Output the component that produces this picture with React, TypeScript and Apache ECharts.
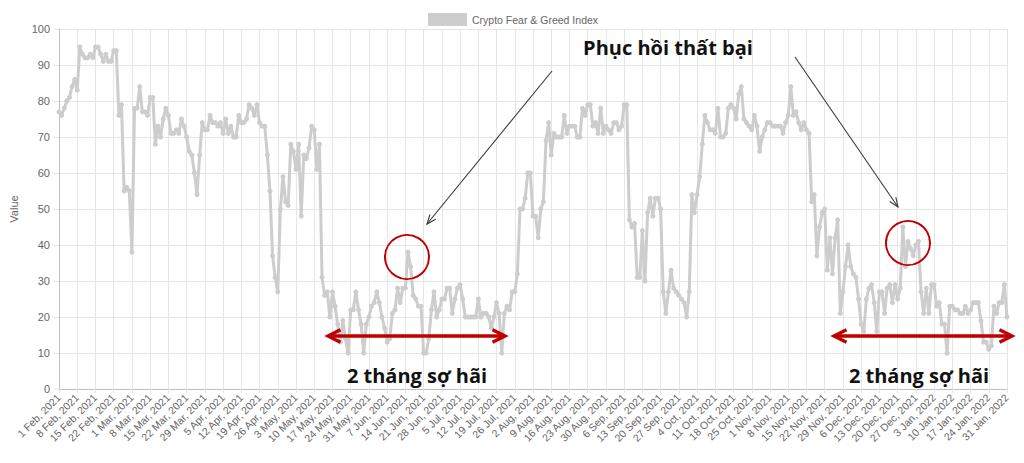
import * as echarts from "echarts";
import { useEffect, useRef } from "react";

// Crypto Fear & Greed Index, daily, 1 Feb 2021 - 31 Jan 2022
const feb21 = [77, 76, 78, 80, 81, 84, 86, 83, 95, 93, 92, 92, 93, 92, 95, 95, 93, 91, 93, 91, 91, 94, 94, 76, 79, 55, 56, 55];
const mar21 = [38, 78, 78, 84, 77, 77, 76, 81, 81, 68, 73, 70, 75, 78, 76, 71, 71, 72, 71, 75, 73, 70, 66, 65, 60, 54, 65, 74, 72, 72, 76];
const apr21 = [74, 74, 73, 74, 71, 75, 71, 73, 70, 70, 76, 74, 74, 75, 79, 78, 76, 79, 74, 73, 73, 65, 55, 37, 31, 27, 50, 59, 52, 51];
const may21 = [68, 66, 61, 68, 48, 65, 64, 67, 73, 72, 61, 68, 31, 26, 27, 20, 27, 23, 18, 13, 19, 14, 10, 22, 22, 27, 22, 18, 10, 18, 20];
const jun21 = [23, 24, 27, 24, 20, 17, 13, 14, 21, 22, 28, 24, 28, 28, 38, 34, 26, 25, 23, 23, 10, 10, 14, 22, 27, 20, 22, 25, 25, 28];
const jul21 = [28, 21, 25, 28, 29, 25, 20, 20, 20, 20, 20, 25, 20, 21, 21, 20, 17, 20, 24, 21, 10, 21, 23, 22, 27, 27, 32, 50, 50, 53, 60];
const aug21 = [60, 48, 48, 42, 50, 52, 69, 74, 65, 71, 70, 70, 70, 76, 71, 73, 73, 73, 70, 70, 78, 76, 79, 79, 73, 74, 71, 78, 71, 73, 72];
const sep21 = [71, 74, 74, 72, 73, 79, 79, 47, 45, 46, 31, 31, 44, 30, 49, 53, 48, 53, 53, 50, 27, 21, 27, 33, 28, 27, 26, 25, 24, 20];
const oct21 = [27, 54, 49, 54, 59, 68, 76, 74, 72, 72, 71, 78, 70, 70, 71, 78, 79, 78, 75, 82, 84, 75, 74, 73, 72, 76, 73, 66, 70, 72, 74];
const nov21 = [74, 73, 73, 73, 73, 71, 74, 76, 84, 76, 77, 74, 72, 74, 72, 71, 52, 54, 37, 45, 49, 50, 33, 42, 32, 42, 47, 21, 27, 34];
const dec21 = [40, 34, 32, 31, 25, 18, 16, 25, 28, 29, 24, 16, 27, 27, 21, 28, 29, 24, 29, 25, 28, 45, 34, 41, 39, 37, 40, 41, 27, 21, 28];
const jan22 = [21, 29, 29, 23, 24, 18, 18, 10, 23, 23, 22, 22, 21, 21, 23, 21, 22, 24, 24, 24, 19, 13, 13, 11, 12, 23, 21, 24, 24, 29, 20];

const values = [
  ...feb21, ...mar21, ...apr21, ...may21, ...jun21, ...jul21,
  ...aug21, ...sep21, ...oct21, ...nov21, ...dec21, ...jan22,
];

const monthNames = ["Jan", "Feb", "Mar", "Apr", "May", "Jun", "Jul", "Aug", "Sep", "Oct", "Nov", "Dec"];
const startDate = Date.UTC(2021, 1, 1);

const categories = values.map((_, i) => {
  const d = new Date(startDate + i * 86400000);
  return `${d.getUTCDate()} ${monthNames[d.getUTCMonth()]}, ${d.getUTCFullYear()}`;
});

const yTicks = { min: 0, max: 100, interval: 10 };

const RED = "#c00000";
const FONT = "'Liberation Sans', Arial, Helvetica, sans-serif";
const NOTE_FONT = "'Open Sans', 'Noto Sans', sans-serif";

// open "V" arrow head at (x2, y2), pointing along (x1,y1)->(x2,y2)
const head = (x1: number, y1: number, x2: number, y2: number, len: number, spread: number) => {
  const a = Math.atan2(y2 - y1, x2 - x1);
  return [
    [x2 - len * Math.cos(a - spread), y2 - len * Math.sin(a - spread)],
    [x2, y2],
    [x2 - len * Math.cos(a + spread), y2 - len * Math.sin(a + spread)],
  ];
};

const thinArrow = (x1: number, y1: number, x2: number, y2: number) => [
  {
    type: "line",
    z: 100,
    shape: { x1, y1, x2, y2 },
    style: { stroke: "#3a3a3a", lineWidth: 1.1 },
  },
  {
    type: "polyline",
    z: 100,
    shape: { points: head(x1, y1, x2, y2, 10, 0.38) },
    style: { stroke: "#3a3a3a", lineWidth: 1.1, fill: null },
  },
];

const redDoubleArrow = (x1: number, x2: number, y: number) => [
  {
    type: "line",
    z: 100,
    shape: { x1: x1 + 2, y1: y, x2: x2 - 2, y2: y },
    style: { stroke: RED, lineWidth: 3.4 },
  },
  {
    type: "polyline",
    z: 100,
    shape: { points: head(x2, y, x1, y, 14, 0.47) },
    style: { stroke: RED, lineWidth: 3.4, fill: null, lineJoin: "miter" },
  },
  {
    type: "polyline",
    z: 100,
    shape: { points: head(x1, y, x2, y, 14, 0.47) },
    style: { stroke: RED, lineWidth: 3.4, fill: null, lineJoin: "miter" },
  },
];

const note = (text: string, x: number, y: number) => ({
  type: "text",
  z: 100,
  x,
  y,
  style: {
    text,
    fill: "#111",
    font: `bold 20px ${NOTE_FONT}`,
    align: "center",
    verticalAlign: "middle",
  },
});

const redCircle = (cx: number, cy: number) => ({
  type: "circle",
  z: 100,
  shape: { cx, cy, r: 22 },
  style: { stroke: RED, lineWidth: 2, fill: null },
});

const App = () => {
  const chartRef = useRef(null);

  useEffect(() => {
    const chart = echarts.init(chartRef.current, null, { renderer: "svg" });

    const options = {
      animation: false,
      backgroundColor: "#ffffff",
      textStyle: { fontFamily: FONT },
      legend: {
        left: 423,
        top: 8,
        itemWidth: 39,
        itemHeight: 13,
        icon: "rect",
        itemGap: 10,
        textStyle: { color: "#666", fontSize: 10.5, fontFamily: FONT },
        data: ["Crypto Fear & Greed Index"],
      },
      grid: { left: 59, right: 17, top: 29, bottom: 74 },
      xAxis: {
        type: "category",
        data: categories,
        boundaryGap: false,
        axisLine: { lineStyle: { color: "#bdbdbd" } },
        axisTick: { show: true, interval: 6, length: 4, lineStyle: { color: "#e3e3e3" } },
        axisLabel: {
          interval: 6,
          rotate: 45,
          margin: 7,
          color: "#666",
          fontSize: 10.5,
          fontFamily: FONT,
        },
        splitLine: { show: true, interval: 6, lineStyle: { color: "#e6e6e6" } },
      },
      yAxis: {
        type: "value",
        min: yTicks.min,
        max: yTicks.max,
        interval: yTicks.interval,
        name: "Value",
        nameLocation: "middle",
        nameRotate: 90,
        nameGap: 40,
        nameTextStyle: { color: "#666", fontSize: 11, fontFamily: FONT },
        axisLine: { show: true, lineStyle: { color: "#bdbdbd" } },
        axisTick: { show: true, length: 5, lineStyle: { color: "#e3e3e3" } },
        axisLabel: { color: "#666", fontSize: 11, margin: 9, fontFamily: FONT },
        splitLine: { show: true, lineStyle: { color: "#e6e6e6" } },
      },
      series: [
        {
          name: "Crypto Fear & Greed Index",
          type: "line",
          data: values,
          symbol: "circle",
          symbolSize: 5,
          showAllSymbol: true,
          lineStyle: { color: "#cdcdcd", width: 3 },
          itemStyle: { color: "#cdcdcd" },
        },
      ],
      graphic: [
        note("Phục hồi thất bại", 668, 47),
        ...thinArrow(552, 71, 427, 224),
        ...thinArrow(795, 57, 898, 207),
        redCircle(407, 257),
        redCircle(908, 243),
        ...redDoubleArrow(328, 505, 336),
        ...redDoubleArrow(834, 1012, 336),
        note("2 tháng sợ hãi", 417, 375),
        note("2 tháng sợ hãi", 919, 375),
      ],
    };

    chart.setOption(options);

    const handleResize = () => chart.resize();
    window.addEventListener("resize", handleResize);

    return () => {
      window.removeEventListener("resize", handleResize);
      chart.dispose();
    };
  }, []);

  return (
    <div
      ref={chartRef}
      style={{ position: "absolute", left: 0, top: 0, width: "1024px", height: "463px" }}
    />
  );
};

export default App;
